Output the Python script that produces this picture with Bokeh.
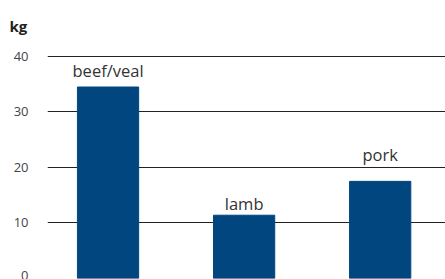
from bokeh.plotting import figure
from bokeh.models import ColumnDataSource, Range1d, FixedTicker, Grid
from bokeh.embed import file_html
from bokeh.resources import INLINE
from bokeh.core.properties import value

categories = ["beef/veal", "lamb", "pork"]
values = [34.5, 11.4, 17.5]
y_ticks = [0, 10, 20, 30, 40]
label_offsets = [-17, -12, -27]  # screen px offsets of the bar labels

xpos = list(range(len(categories)))
src = ColumnDataSource(dict(x=xpos, top=values))

p = figure(width=445, height=279, output_backend="svg", toolbar_location=None,
           x_range=Range1d(-0.445, 2.48), y_range=Range1d(0, 42.88),
           min_border_left=47, min_border_right=0, min_border_top=40, min_border_bottom=1)
p.outline_line_color = None
p.background_fill_color = "white"
p.border_fill_color = "white"

p.vbar(x="x", top="top", width=0.45, source=src, color="#02467f")
for i in range(len(categories)):
    p.text(x=[xpos[i]], y=[values[i]], text=[categories[i]], text_align="center",
           text_baseline="alphabetic", y_offset=label_offsets[i],
           text_font=value("Open Sans"), text_font_size="16.5px", text_color="#333333")

p.xaxis.visible = False
p.xgrid.visible = False
p.yaxis.ticker = FixedTicker(ticks=y_ticks)
p.yaxis.axis_line_color = None
p.yaxis.major_tick_line_color = None
p.yaxis.minor_tick_line_color = None
p.yaxis.major_tick_out = 0
p.yaxis.major_label_standoff = 19
p.yaxis.major_label_text_font = "Open Sans"
p.yaxis.major_label_text_font_size = "13px"
p.yaxis.major_label_text_color = "#444444"
p.ygrid.ticker = FixedTicker(ticks=y_ticks[1:])
p.ygrid.grid_line_color = "#222222"
p.ygrid.grid_line_width = 1
zero_grid = Grid(dimension=1, ticker=FixedTicker(ticks=y_ticks[:1]),
                 grid_line_color="#aaaaaa", grid_line_width=1)
p.add_layout(zero_grid)

p.title.text = "kg"
p.title.align = "left"
p.title.offset = -38
p.title.text_font = "Open Sans"
p.title.text_font_style = "bold"
p.title.text_font_size = "15px"
p.title.text_color = "#222222"
p.title.standoff = 9

open("out.html", "w").write(file_html(p, INLINE))
